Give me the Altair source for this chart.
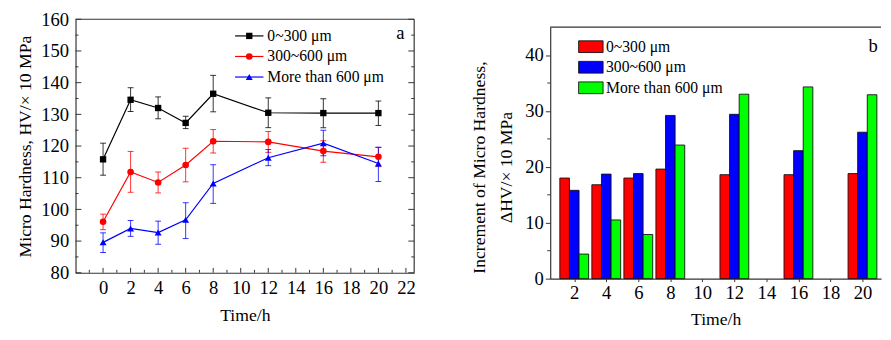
import altair as alt
import pandas as pd

FONT = "Liberation Serif"

# ---------------- data ----------------
series = ["0~300 μm", "300~600 μm", "More than 600 μm"]

time_a = [0, 2, 4, 6, 8, 12, 16, 20]
hv_0_300 = [115.8, 134.6, 132.0, 127.3, 136.5, 130.5, 130.4, 130.4]
hi_0_300 = [120.9, 138.4, 135.5, 129.4, 142.3, 135.2, 134.9, 134.2]
lo_0_300 = [110.8, 130.9, 128.6, 125.5, 130.8, 125.8, 125.8, 126.5]
hv_300_600 = [96.1, 111.8, 108.5, 114.0, 121.5, 121.3, 118.4, 116.6]
hi_300_600 = [98.5, 118.3, 111.8, 119.3, 125.2, 124.6, 121.7, 119.6]
lo_300_600 = [93.6, 105.4, 105.2, 108.7, 117.8, 118.0, 114.9, 113.5]
hv_600 = [89.6, 94.0, 92.7, 96.7, 108.2, 116.3, 120.9, 114.5]
hi_600 = [92.6, 96.5, 96.3, 102.1, 114.1, 118.9, 125.0, 119.6]
lo_600 = [86.4, 91.5, 89.0, 90.8, 101.9, 113.8, 116.9, 108.8]

time_b = [2, 4, 6, 8, 12, 16, 20]
inc_0_300 = [18.0, 16.8, 18.0, 19.6, 18.6, 18.6, 18.8]
inc_300_600 = [15.8, 18.7, 18.8, 29.2, 29.4, 22.9, 26.2]
inc_600 = [4.4, 10.5, 7.9, 23.9, 33.0, 34.3, 32.9]

ya_major = [80, 90, 100, 110, 120, 130, 140, 150, 160]
ya_minor = [85, 95, 105, 115, 125, 135, 145, 155]
xa_major = [0, 2, 4, 6, 8, 10, 12, 14, 16, 18, 20, 22]
xa_minor = [-1, 1, 3, 5, 7, 9, 11, 13, 15, 17, 19, 21]
yb_major = [0, 10, 20, 30, 40]
yb_minor = [5, 15, 25, 35]
xb_labels = [2, 4, 6, 8, 10, 12, 14, 16, 18, 20]

# ---------------- tables ----------------
rows = []
for s, hv, hi, lo in zip(series,
                         [hv_0_300, hv_300_600, hv_600],
                         [hi_0_300, hi_300_600, hi_600],
                         [lo_0_300, lo_300_600, lo_600]):
    for t, v, h, l in zip(time_a, hv, hi, lo):
        rows.append({"series": s, "t": t, "hv": v, "hi": h, "lo": l})
df_a = pd.DataFrame(rows)

rows = []
for s, vals in zip(series, [inc_0_300, inc_300_600, inc_600]):
    for t, v in zip(time_b, vals):
        rows.append({"series": s, "t": t, "v": v})
df_b = pd.DataFrame(rows)

df_leg = pd.DataFrame({"series": series})
df_one = pd.DataFrame({"k": [0]})

AX = "#333333"

# ---------------- panel a ----------------
WA, HA = 346, 259

xs_a = alt.Scale(domain=[-2, 22.6], nice=False, zero=False)
ys_a = alt.Scale(domain=[80, 160], nice=False, zero=False)
col_a = alt.Scale(domain=series, range=["#000000", "#ff0000", "#0000ff"])
shp_a = alt.Scale(domain=series, range=["square", "circle", "triangle-up"])
siz_a = alt.Scale(domain=series, range=[42, 50, 60])

ax_xa = alt.Axis(values=xa_major, ticks=False, labelPadding=6, domain=True, domainColor=AX,
                 domainWidth=1.2, grid=False, title="Time/h", titlePadding=10)
ax_ya = alt.Axis(values=ya_major, ticks=False, labelPadding=7, domain=True, domainColor=AX,
                 domainWidth=1.2, grid=False, title="Micro Hardness, HV/× 10 MPa",
                 titlePadding=7)

color_a = alt.Color("series:N", scale=col_a, legend=None)
shape_a = alt.Shape("series:N", scale=shp_a, legend=None)
size_a = alt.Size("series:N", scale=siz_a, legend=None)

base_a = alt.Chart(df_a)
lines_a = base_a.mark_line(strokeWidth=1.2).encode(
    x=alt.X("t:Q", scale=xs_a, axis=ax_xa),
    y=alt.Y("hv:Q", scale=ys_a, axis=ax_ya),
    color=color_a)
err_a = base_a.mark_errorbar(ticks={"size": 6}, opacity=0.8).encode(
    x=alt.X("t:Q", scale=xs_a, axis=ax_xa),
    y=alt.Y("lo:Q", scale=ys_a, axis=ax_ya),
    y2="hi:Q",
    color=color_a,
)
pts_a = base_a.mark_point(filled=True, opacity=1).encode(
    x=alt.X("t:Q", scale=xs_a, axis=ax_xa),
    y=alt.Y("hv:Q", scale=ys_a, axis=ax_ya),
    color=color_a, shape=shape_a, size=size_a,
)


def yticks(vals, scale, axis, x0, x1):
    return alt.Chart(pd.DataFrame({"v": vals})).mark_rule(color=AX, strokeWidth=1).encode(
        y=alt.Y("v:Q", scale=scale, axis=axis), x=alt.value(x0), x2=alt.value(x1))


def xticks(vals, scale, axis, y0, y1):
    return alt.Chart(pd.DataFrame({"v": vals})).mark_rule(color=AX, strokeWidth=1).encode(
        x=alt.X("v:Q", scale=scale, axis=axis), y=alt.value(y0), y2=alt.value(y1))


ticks_a = [
    yticks(ya_major, ys_a, ax_ya, 0, 6), yticks(ya_minor, ys_a, ax_ya, 0, 3),
    yticks(ya_major, ys_a, ax_ya, WA, WA - 6), yticks(ya_minor, ys_a, ax_ya, WA, WA - 3),
    xticks(xa_major, xs_a, ax_xa, HA, HA - 5), xticks(xa_minor, xs_a, ax_xa, HA, HA - 3),
]

frame_a = [
    alt.Chart(df_one).mark_rule(color=AX, strokeWidth=1.2).encode(
        x=alt.value(0), x2=alt.value(WA), y=alt.value(0)),
    alt.Chart(df_one).mark_rule(color=AX, strokeWidth=1.2).encode(
        x=alt.value(WA), y=alt.value(0), y2=alt.value(HA)),
]

lab_a = alt.Chart(pd.DataFrame({"l": ["a"]})).mark_text(
    font=FONT, fontSize=19, align="center", baseline="middle", color="black"
).encode(text="l:N", x=alt.value(332), y=alt.value(14))

main_a = alt.layer(lines_a, err_a, pts_a, *ticks_a, *frame_a, lab_a)

ly_a = alt.Y("series:N", scale=alt.Scale(type="point", domain=series, range=[17, 59], padding=0),
             axis=None)
leg_a = alt.layer(
    alt.Chart(df_leg).mark_rule(strokeWidth=1.2).encode(
        y=ly_a, x=alt.value(163), x2=alt.value(192), color=color_a),
    alt.Chart(df_leg).mark_point(filled=True, opacity=1).encode(
        y=ly_a, x=alt.value(177.5), color=color_a, shape=shape_a, size=size_a),
    alt.Chart(df_leg).mark_text(font=FONT, fontSize=16, align="left", baseline="middle",
                                color="black").encode(
        y=ly_a, x=alt.value(196), text="series:N"),
)

panel_a = alt.layer(main_a, leg_a).resolve_scale(y="independent").properties(width=WA, height=HA)

# ---------------- panel b ----------------
WB, HB = 338, 265
TOPB = 8
xs_b = alt.Scale(domain=[0.5, 21.16], nice=False, zero=False)
ys_b = alt.Scale(domain=[0, 45], range=[HB, TOPB], nice=False)
col_b = alt.Scale(domain=series, range=["#ff0000", "#0000ff", "#00ff00"])
color_b = alt.Color("series:N", scale=col_b, legend=None)

ax_xb = alt.Axis(values=xb_labels, tickSize=3, tickColor=AX, labelPadding=2, domain=True,
                 domainColor=AX, domainWidth=1.2, grid=False, title="Time/h", titlePadding=9)
ax_yb = alt.Axis(values=yb_major, tickSize=5, tickColor=AX, labelPadding=2, domain=True,
                 domainColor=AX, domainWidth=1.2, grid=False,
                 title=["Increment of Micro Hardness,", "ΔHV/× 10 MPa"],
                 titleLineHeight=27, titlePadding=10, titleY=151)

bars_b = alt.Chart(df_b).transform_calculate(
    off="(indexof(" + str(series) + ", datum.series) - 1) * 0.6"
).transform_calculate(
    x1="datum.t + datum.off - 0.3", x2="datum.t + datum.off + 0.3"
).mark_rect(stroke="#111111", strokeWidth=0.9).encode(
    x=alt.X("x1:Q", scale=xs_b, axis=ax_xb),
    x2="x2:Q",
    y=alt.Y("v:Q", scale=ys_b, stack=None, axis=ax_yb),
    y2=alt.datum(0),
    color=color_b,
)

ticks_b = [yticks(yb_minor, ys_b, ax_yb, 0, -3)]

frame_b = [
    alt.Chart(df_one).mark_rule(color=AX, strokeWidth=1.2).encode(
        x=alt.value(0), x2=alt.value(WB), y=alt.value(TOPB)),
]

lab_b = alt.Chart(pd.DataFrame({"l": ["b"]})).mark_text(
    font=FONT, fontSize=19, align="center", baseline="middle", color="black"
).encode(text="l:N", x=alt.value(330), y=alt.value(TOPB + 19))

main_b = alt.layer(bars_b, *ticks_b, *frame_b, lab_b)

ly_b = alt.Y("series:N", scale=alt.Scale(type="point", domain=series,
                                         range=[TOPB + 20, TOPB + 62], padding=0), axis=None)
leg_b = alt.layer(
    alt.Chart(df_leg).mark_point(filled=True, opacity=1, stroke="#111111", strokeWidth=0.9,
                                 shape="M-1,-0.48H1V0.48H-1Z", size=625).encode(
        y=ly_b, x=alt.value(41.5), color=color_b),
    alt.Chart(df_leg).mark_text(font=FONT, fontSize=16, align="left", baseline="middle",
                                color="black").encode(
        y=ly_b, x=alt.value(57), text="series:N"),
)

panel_b = alt.layer(main_b, leg_b).resolve_scale(y="independent").properties(width=WB, height=HB)

chart = alt.hconcat(panel_a, panel_b, spacing=55).resolve_scale(
    x="independent", y="independent", color="independent", shape="independent",
    size="independent"
).properties(
    padding={"left": 8, "top": -2, "right": 0, "bottom": 0}
).configure(
    font=FONT
).configure_axis(
    labelFont=FONT, titleFont=FONT, labelFontSize=19, titleFontSize=18,
    labelColor="black", titleColor="black", titleFontWeight="normal",
).configure_view(
    stroke="transparent"
)

chart.save("out.html", embed_options={"renderer": "svg", "actions": False})
